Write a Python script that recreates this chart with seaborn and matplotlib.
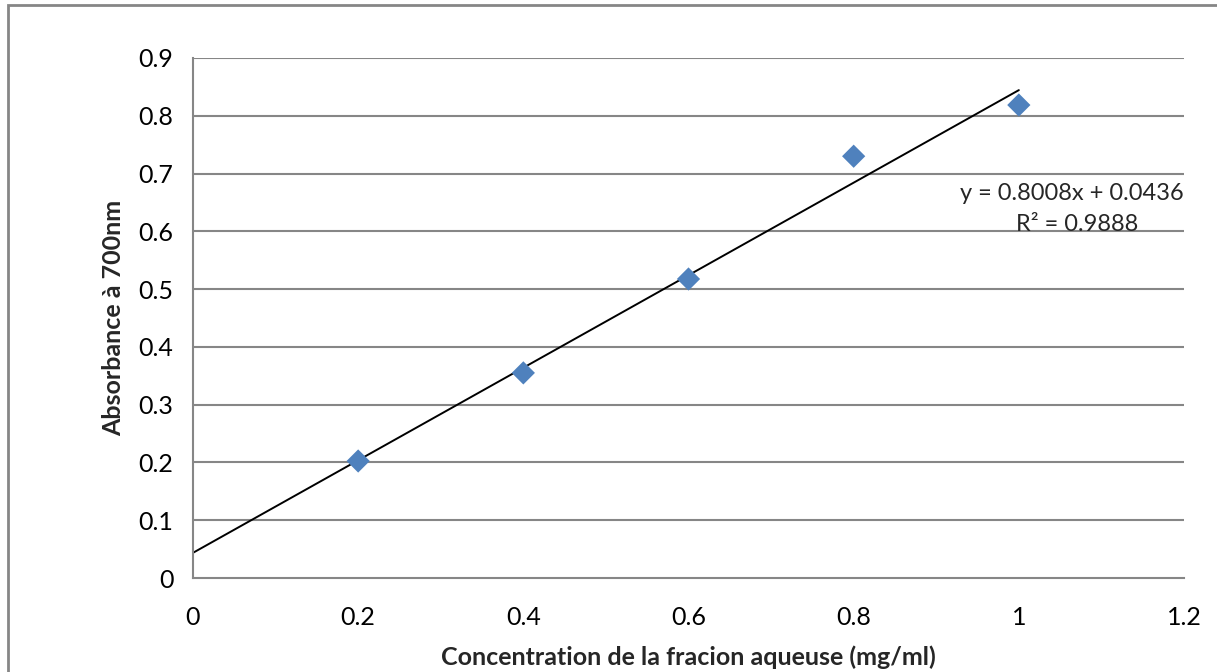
import numpy as np
import pandas as pd
import matplotlib.pyplot as plt
import seaborn as sns
from matplotlib.patches import Rectangle

# data
concentration = [0.2, 0.4, 0.6, 0.8, 1.0]
absorbance = [0.2025, 0.355, 0.5175, 0.730, 0.8186]
slope = 0.8008
intercept = 0.0436
r2 = 0.9888

x_ticks = [0, 0.2, 0.4, 0.6, 0.8, 1, 1.2]
x_tick_labels = ['0', '0.2', '0.4', '0.6', '0.8', '1', '1.2']
y_ticks = [0, 0.1, 0.2, 0.3, 0.4, 0.5, 0.6, 0.7, 0.8, 0.9]
y_tick_labels = ['0', '0.1', '0.2', '0.3', '0.4', '0.5', '0.6', '0.7', '0.8', '0.9']

df = pd.DataFrame({'conc': concentration, 'abs': absorbance})
trend = pd.DataFrame({'conc': [0, 1.0]})
trend['abs'] = slope * trend['conc'] + intercept

sns.set_style('white')
plt.rcParams['font.family'] = ['Lato', 'DejaVu Sans']

fig = plt.figure(figsize=(12.17, 6.72), dpi=100)
ax = fig.add_axes([193 / 1217, 94 / 672, 991 / 1217, 520 / 672])

grid_col = '#868686'
for yv in y_ticks[1:]:
    ax.axhline(yv, color=grid_col, lw=1.5, zorder=0)

sns.lineplot(data=trend, x='conc', y='abs', color='black', lw=1.4, ax=ax, zorder=2)
sns.scatterplot(data=df, x='conc', y='abs', marker='D', s=140, color='#4F81BD',
                edgecolor='none', ax=ax, zorder=3)

ax.set_xlim(0, 1.2)
ax.set_ylim(0, 0.9)
ax.set_xticks(x_ticks)
ax.set_xticklabels(x_tick_labels)
ax.set_yticks(y_ticks)
ax.set_yticklabels(y_tick_labels)
ax.tick_params(axis='both', direction='out', length=8, width=1.5, color=grid_col,
               labelsize=18, pad=6, labelcolor='black')
ax.tick_params(axis='x', pad=12)

for side in ['top', 'right']:
    ax.spines[side].set_visible(False)
for side in ['left', 'bottom']:
    ax.spines[side].set_color(grid_col)
    ax.spines[side].set_linewidth(1.5)

ax.set_xlabel('Concentration de la fracion aqueuse (mg/ml)', fontsize=18,
              fontweight='bold', labelpad=12)
ax.set_ylabel('Absorbance à 700nm', fontsize=18, fontweight='bold', labelpad=10)

ax.text(1.2, 0.665, f'y = {slope}x + {intercept}', fontsize=17, ha='right', va='center')
ax.text(1.07, 0.611, f'R² = {r2}', fontsize=17, ha='center', va='center')

fig.patches.append(Rectangle((8 / 1217, -0.05), 1.2, 1 - 5 / 672 + 0.05,
                             transform=fig.transFigure, fill=False,
                             edgecolor=grid_col, lw=2))

fig.savefig('out.png', dpi=100)
